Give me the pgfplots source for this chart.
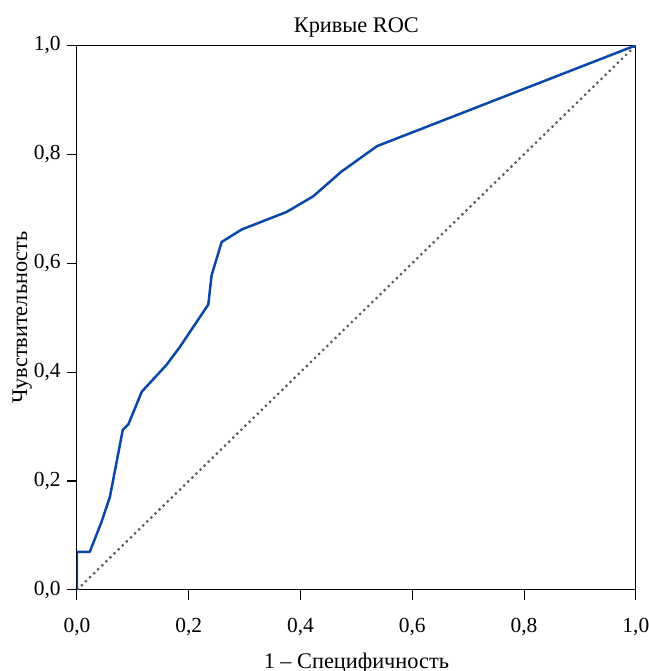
\documentclass[border=0pt]{standalone}
\usepackage{fontspec}
\setmainfont{Liberation Serif}
\usepackage{pgfplots}
\pgfplotsset{compat=1.18}
\definecolor{rocblue}{HTML}{0A47A8}
\definecolor{diaggray}{HTML}{555555}

\begin{document}
\begin{tikzpicture}
\begin{axis}[
    scale only axis,
    width=313pt,
    height=305pt,
    xmin=0, xmax=1,
    ymin=0, ymax=1,
    xtick={0,0.2,...,1.0},
    ytick={0,0.2,...,1.0},
    tick pos=left,
    tick align=outside,
    major tick length=5.6pt,
    axis line style={line width=0.6pt},
    every tick/.style={black, line width=0.6pt},
    /pgf/number format/.cd, use comma, fixed, fixed zerofill, precision=1, assume math mode=true,
    /pgfplots/.cd,
    tick label style={font=\fontsize{12}{14}\selectfont},
    x tick label style={yshift=-7pt},
    title={Кривые ROC},
    every axis title/.style={font=\fontsize{12.5}{14}\selectfont, at={(axis description cs:0.5,1.032)}, anchor=center},
    xlabel={1 -- Специфичность},
    ylabel={Чувствительность},
    every axis x label/.style={font=\fontsize{12.5}{14}\selectfont, at={(axis description cs:0.5,-0.135)}, anchor=center},
    every axis y label/.style={font=\fontsize{12.5}{14}\selectfont, at={(axis description cs:-0.098,0.5)}, rotate=90, anchor=center},
]
% diagonal reference line
\addplot[diaggray, line width=1.2pt, dash pattern=on 1.2pt off 2.0pt] coordinates {(0,0) (1,1)};
% ROC curve
\addplot[rocblue, line width=1.4pt, line join=round] coordinates {
    (0,0) (0,0.070) (0.023,0.070) (0.044,0.125) (0.059,0.171)
    (0.082,0.294) (0.092,0.304) (0.116,0.364) (0.160,0.413)
    (0.184,0.446) (0.235,0.524) (0.241,0.578) (0.251,0.612)
    (0.259,0.639) (0.295,0.662) (0.375,0.694) (0.423,0.723)
    (0.473,0.768) (0.537,0.815) (1,1)
};
\end{axis}
\pgfresetboundingbox
\path[use as bounding box] ([shift={(-43.1pt,-45.4pt)}]current axis.south west)
    rectangle ([shift={(320.3pt,330.4pt)}]current axis.south west);
\end{tikzpicture}
\end{document}
